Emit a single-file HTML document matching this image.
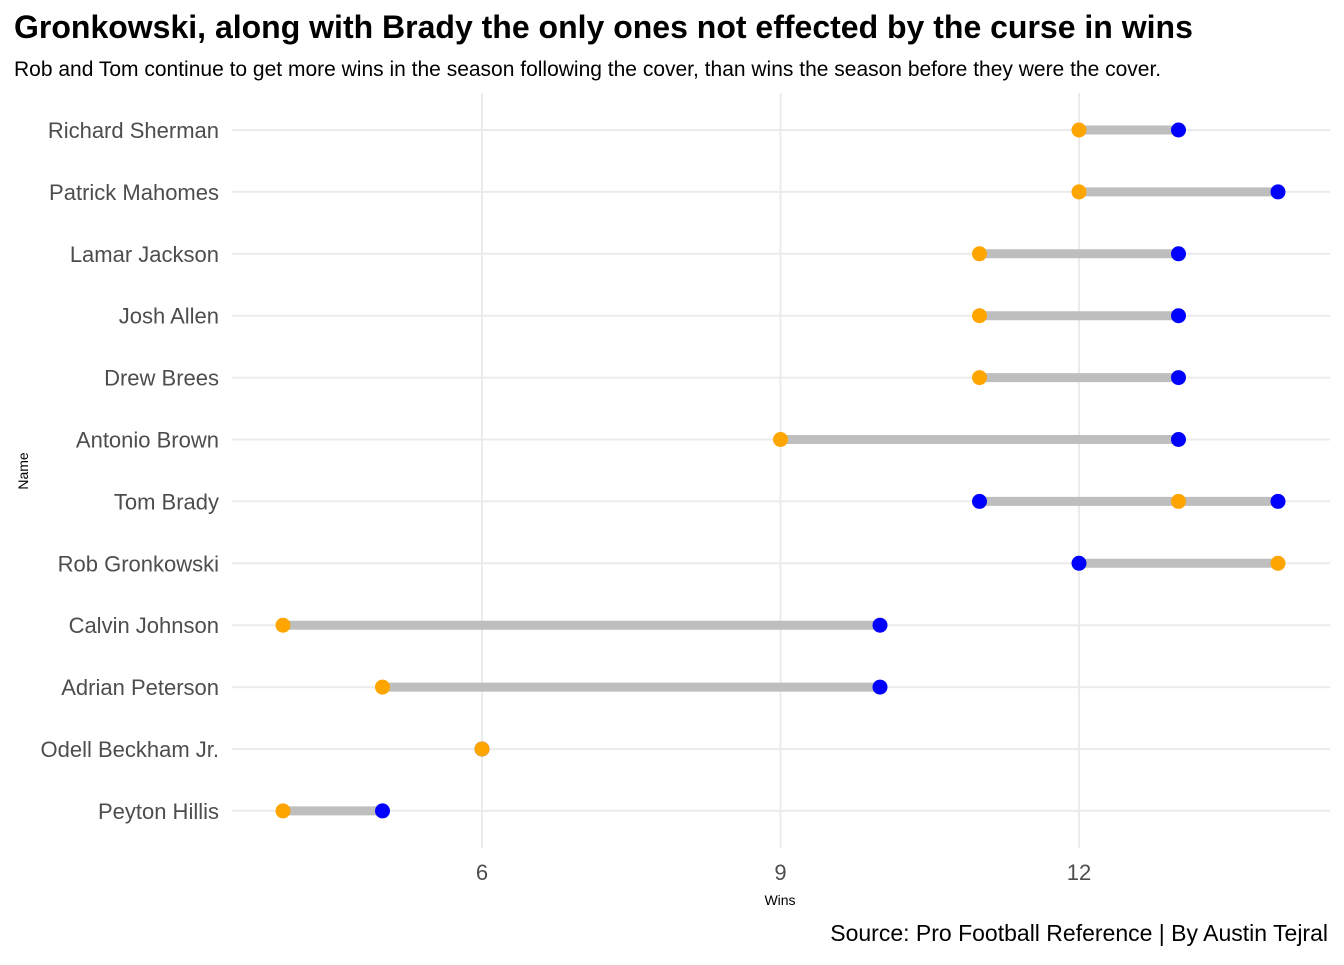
<!DOCTYPE html>
<html><head><meta charset="utf-8"><style>
body{margin:0;background:#fff;font-family:"Liberation Sans",Arial,sans-serif;}
svg text{font-family:"Liberation Sans",Arial,sans-serif;}
</style></head><body>
<svg id="chart" width="1344" height="960" xmlns="http://www.w3.org/2000/svg">
<rect width="1344" height="960" fill="#fff"/>
<text x="14" y="38" font-size="32" font-weight="bold" fill="#000">Gronkowski, along with Brady the only ones not effected by the curse in wins</text>
<text x="14" y="76" font-size="21" fill="#000">Rob and Tom continue to get more wins in the season following the cover, than wins the season before they were the cover.</text>
<g id="grid"></g><g id="marks"></g><g id="labels"></g>
<text x="780" y="905" font-size="14" text-anchor="middle" fill="#000">Wins</text>
<text transform="translate(28,471) rotate(-90)" font-size="14" text-anchor="middle" fill="#000">Name</text>
<text x="1328" y="941" font-size="23" text-anchor="end" fill="#000">Source: Pro Football Reference | By Austin Tejral</text>
</svg>
<script>
const names=["Richard Sherman","Patrick Mahomes","Lamar Jackson","Josh Allen","Drew Brees","Antonio Brown","Tom Brady","Rob Gronkowski","Calvin Johnson","Adrian Peterson","Odell Beckham Jr.","Peyton Hillis"];
const before=[12,12,11,11,11,9,13,14,4,5,6,4];
const after=[13,14,13,13,13,13,11,12,10,10,6,5];
const extraAfter=[null,null,null,null,null,null,14,null,null,null,null,null];
const xTicks=[6,9,12];
const NS="http://www.w3.org/2000/svg";
const x=v=>482+(v-6)*99.5;
const y=i=>130+i*61.9;
function mk(tag,attrs,parent){const e=document.createElementNS(NS,tag);for(const k in attrs)e.setAttribute(k,attrs[k]);parent.appendChild(e);return e;}
const g=document.getElementById('grid'),m=document.getElementById('marks'),l=document.getElementById('labels');
xTicks.forEach(t=>{
 const ln=mk('line',{x1:x(t),x2:x(t),y1:93,y2:848,stroke:'#ebebeb','stroke-width':2},g);
 
 
 const tx=mk('text',{x:x(t),y:880,'font-size':22,'text-anchor':'middle',fill:'#4d4d4d'},l);
 tx.textContent=t;
 
 
});
names.forEach((n,i)=>{
 const ln=mk('line',{x1:232,x2:1330,y1:y(i),y2:y(i),stroke:'#ebebeb','stroke-width':2},g);
 
 
 const tx=mk('text',{x:219,y:y(i)+8,'font-size':22,'text-anchor':'end',fill:'#4d4d4d'},l);
 tx.textContent=n;
 
 
 const vals=[before[i],after[i]];if(extraAfter[i]!=null)vals.push(extraAfter[i]);
 const lo=Math.min(...vals),hi=Math.max(...vals);
 const seg=mk('line',{x1:x(lo),x2:x(hi),y1:y(i),y2:y(i),stroke:'#bebebe','stroke-width':9},m);
 
 
 const pts=[[after[i],'#0000ff'],[before[i],'#ffa500']];
 if(extraAfter[i]!=null)pts.unshift([extraAfter[i],'#0000ff']);
 pts.forEach(p=>{
  const c=mk('circle',{cx:x(p[0]),cy:y(i),r:7.5,fill:p[1]},m);
  
  
 });
});
</script>
</body></html>
